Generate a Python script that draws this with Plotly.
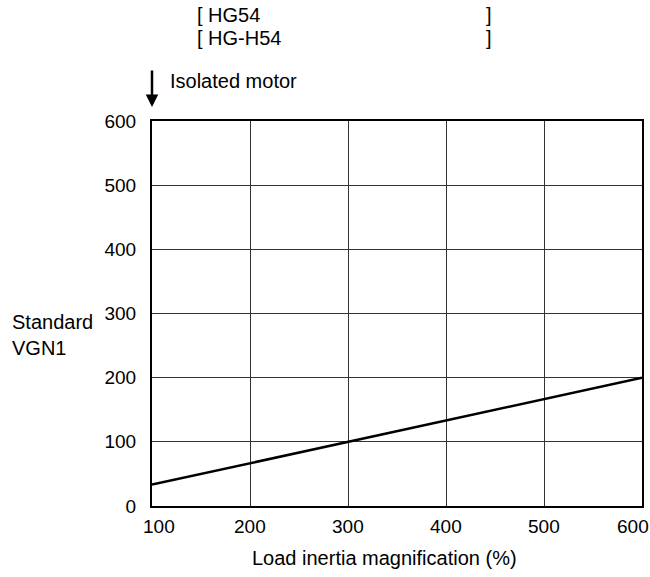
import plotly.graph_objects as go

x_vals = [100, 600]
y_vals = [100/3, 200]
x_ticks = [100, 200, 300, 400, 500, 600]
x_tick_labels = ["100", "200", "300", "400", "500", "600"]
y_ticks = [0, 100, 200, 300, 400, 500, 600]
title_lines = ["[ HG54", "[ HG-H54"]
FONT = "Liberation Sans, Arial, sans-serif"
FS = 20

L, R, T, B = 152, 8, 121, 71
W, H = 650, 577
PW, PH = W - L - R, H - T - B

def px(xp):
    return (xp - L) / PW

def py(yp):
    return (H - B - yp) / PH

fig = go.Figure()
fig.add_trace(go.Scatter(x=x_vals, y=y_vals, mode="lines",
                         line=dict(color="black", width=2.5), showlegend=False,
                         cliponaxis=False, hoverinfo="skip"))

fig.update_layout(
    width=W, height=H,
    margin=dict(l=L, r=R, t=T, b=B, autoexpand=False),
    paper_bgcolor="white", plot_bgcolor="white",
    font=dict(family=FONT, size=FS, color="black"),
    xaxis=dict(range=[100, 600], tickvals=x_ticks, showticklabels=False,
               showgrid=True, gridcolor="#333", automargin=False,
               gridwidth=1, zeroline=False, showline=True, linecolor="black",
               linewidth=2, mirror=True, ticks="", ticklen=0),
    yaxis=dict(range=[0, 600], tickvals=y_ticks, showgrid=True, gridcolor="#333",
               gridwidth=1, zeroline=False, showline=True, linecolor="black",
               linewidth=2, mirror=True, ticks="", ticklen=0, automargin=False,
               ticklabelstandoff=10, ticklabeloverflow="allow",
               tickfont=dict(size=19)),
)

ann = []
# x tick labels (end labels nudged inside the frame as in the reference)
for i, (v, t) in enumerate(zip(x_ticks, x_tick_labels)):
    shift = 7 if i == 0 else (-9 if i == len(x_ticks) - 1 else 0)
    ann.append(dict(text=t, x=v, xref="x", yref="paper", y=py(526),
                    xanchor="center", yanchor="middle", xshift=shift,
                    showarrow=False, font=dict(size=19)))
for i, t in enumerate(title_lines):
    yc = 15.5 + 22.5 * i
    ann.append(dict(text=t, xref="paper", yref="paper", x=px(195), y=py(yc),
                    xanchor="left", yanchor="middle", showarrow=False))
    ann.append(dict(text="]", xref="paper", yref="paper", x=px(484), y=py(yc),
                    xanchor="left", yanchor="middle", showarrow=False))
ann.append(dict(text="Isolated motor", xref="paper", yref="paper", x=px(168),
                y=py(81), xanchor="left", yanchor="middle", showarrow=False))
ann.append(dict(text="", x=100, xref="x", yref="paper", y=py(107),
                showarrow=True, arrowhead=2, arrowsize=1, arrowwidth=2.5,
                arrowcolor="black", ax=0, ay=-38))
ann.append(dict(text="Standard<br>VGN1", xref="paper", yref="paper", x=px(10),
                y=py(335), xanchor="left", yanchor="middle", align="left",
                showarrow=False))
ann.append(dict(text="Load inertia magnification (%)", xref="paper", yref="paper",
                x=px(384), y=py(558), xanchor="center", yanchor="middle",
                showarrow=False))
fig.update_layout(annotations=ann)

fig.write_html("out.html", config={"displayModeBar": False},
               post_script="document.body.style.margin='0';document.body.style.overflow='hidden';")
